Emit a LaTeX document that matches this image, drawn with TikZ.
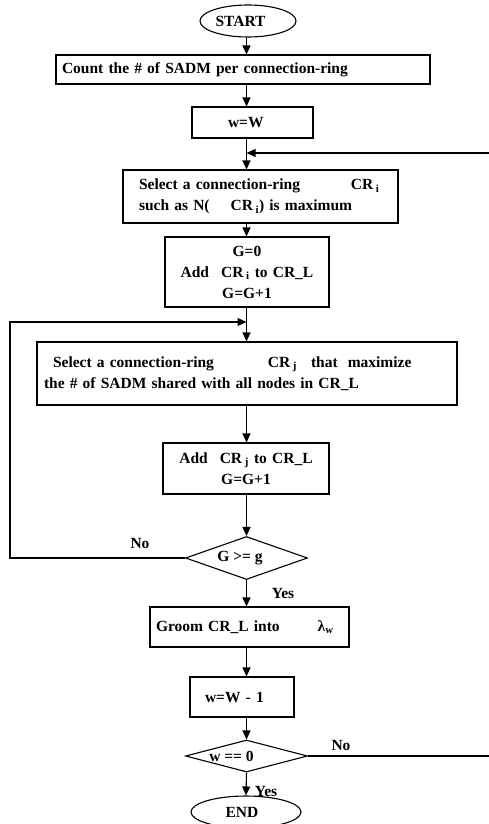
\documentclass[tikz,border=0pt]{standalone}
\usepackage{fontspec}
\setmainfont{Liberation Serif}
\usetikzlibrary{shapes.geometric,arrows.meta}
\begin{document}
\begin{tikzpicture}[x=1pt,y=-1pt,line width=1.1pt,
  every node/.style={font=\fontsize{15.5}{21}\selectfont\bfseries},
  box/.style={draw,rectangle,inner ysep=0pt},
  dia/.style={draw,diamond,inner sep=0pt,minimum width=122pt},
  term/.style={draw,ellipse,inner sep=0pt,minimum height=32pt},
  lbl/.style={inner sep=0pt},
  arr/.style={-{Triangle[length=9pt,width=8pt]}}]
\useasboundingbox (0,0) rectangle (489,824);
\coordinate (c) at (246.5,0);
% terminals
\node[term,minimum width=96pt] (st) at (248,21) {\makebox[0pt]{START\hspace{15pt}}};
\node[term,minimum width=110pt] (en) at (246,812) {\makebox[0pt]{END\hspace{8pt}}};
% boxes
\node[box,minimum width=374pt,minimum height=29pt,text width=362pt,inner xsep=6pt,align=left] (b1) at (243,69.5)
  {Count the \# of SADM per connection-ring};
\node[box,minimum width=121pt,minimum height=31pt,text width=49pt,inner xsep=36pt,align=left] (b2) at (252.5,122.5)
  {w=W};
\node[box,minimum width=275pt,minimum height=53pt,text width=243pt,inner xsep=16pt,align=left] (b3) at (260.5,196.5)
  {Select a connection-ring\hspace{51pt}CR\,\textsubscript{i}\\
   such as N(\hspace{21pt}CR\,\textsubscript{i}) is maximum};
\node[box,minimum width=164pt,minimum height=70pt,text width=150pt,inner xsep=7pt,align=center] (b4) at (247,272)
  {G=0\\Add\hspace{12pt}CR\,\textsubscript{i} to CR\_L\\G=G+1};
\node[box,minimum width=420pt,minimum height=63pt,text width=406pt,inner xsep=7pt,align=left] (b5) at (247,373.5)
  {\hspace*{9pt}Select a connection-ring\hspace{54pt}CR\,\textsubscript{j}\hspace{14pt}that\hspace{10pt}maximize\\
   the \# of SADM shared with all nodes in CR\_L};
\node[box,minimum width=166pt,minimum height=51pt,text width=152pt,inner xsep=7pt,align=center] (b6) at (246,468.5)
  {Add\hspace{12pt}CR\,\textsubscript{j} to CR\_L\\G=G+1};
\node[box,minimum width=199pt,minimum height=40pt,text width=187pt,inner xsep=6pt,align=left] (b7) at (249.5,627)
  {Groom CR\_L into\hspace{38pt}λ\textsubscript{w}};
\node[box,minimum width=104pt,minimum height=40pt,text width=74pt,inner xsep=15pt,align=left] (b8) at (242,697)
  {w=W - 1};
% decisions
\node[dia,minimum height=43pt] (d1) at (246.5,558) {\makebox[0pt]{G >= g\hspace{13pt}}};
\node[dia,minimum height=32pt] (d2) at (246.5,756) {\makebox[0pt]{w == 0\hspace{30pt}}};
% labels
\node[lbl] (no1) at (140,543) {No};
\node[lbl] (yes1) at (283,593) {Yes};
\node[lbl] (no2) at (341,745) {No};
\node[lbl] (yes2) at (266,791) {Yes};
% junctions
\coordinate (j1) at (246.5,153);
\coordinate (j2) at (246.5,322);
\coordinate (R1) at (489,153);
\coordinate (R2) at (489,756);
\coordinate (L) at (10,322);
% connectors
\draw[arr] (st.south -| c) -- (b1.north -| c);
\draw[arr] (b1.south -| c) -- (b2.north -| c);
\draw (b2.south -| c) -- (j1);
\draw[arr] (j1) -- (b3.north -| c);
\draw[arr] (R1) -- (j1);
\draw[arr] (b3.south -| c) -- (b4.north -| c);
\draw (b4.south -| c) -- (j2);
\draw[arr] (j2) -- (b5.north -| c);
\draw[arr] (b5.south -| c) -- (b6.north -| c);
\draw[arr] (b6.south -| c) -- (d1.north);
\draw[arr] (d1.west) -| (L) -- (j2);
\draw[arr] (d1.south) -- (b7.north -| c);
\draw[arr] (b7.south -| c) -- (b8.north -| c);
\draw[arr] (b8.south -| c) -- (d2.north);
\draw (d2.east) -- (R2);
\draw[arr] (d2.south) -- (en.north);
\end{tikzpicture}
\end{document}
